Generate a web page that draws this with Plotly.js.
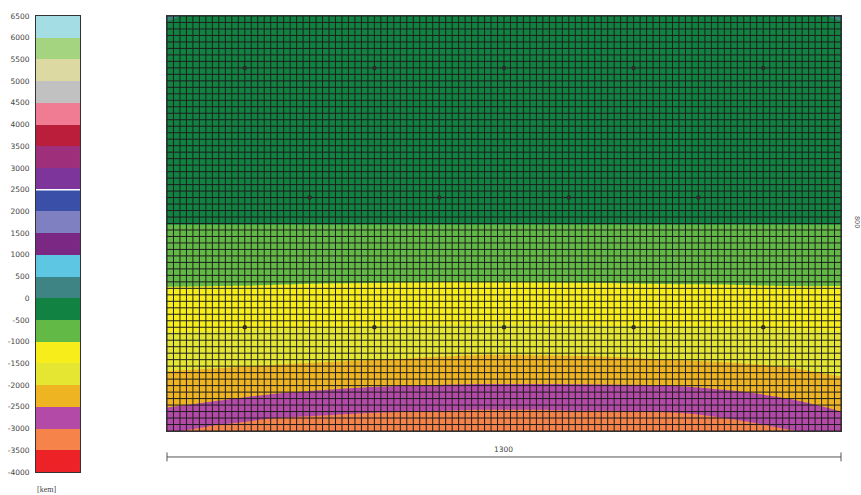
<!DOCTYPE html>
<html>
<head>
<meta charset="utf-8">
<script src="https://cdn.plot.ly/plotly-3.0.1.min.js"></script>
<style>html,body{margin:0;padding:0;background:#fff;}#chart{width:861px;height:495px;}</style>
</head>
<body>
<div id="chart"></div>
<script>
// Colour bar levels [kem] and band colours (one per 500 step)
const colorLevels = [-4000,-3500,-3000,-2500,-2000,-1500,-1000,-500,0,500,1000,1500,2000,2500,3000,3500,4000,4500,5000,5500,6000,6500];
const bandColors = ['#ec2227','#f5834a','#b44aa8','#eeb422','#e4e632','#f7ed1b','#63b946','#118241',
  '#3f8484','#5cc6e3','#7a2883','#7f80c2','#3a50a8','#7d359b','#9e2f7b','#bb1e3a','#ef7c93',
  '#c1c1c1','#ddd9a2','#a5d480','#a4dde3'];

// Field grid (x along 1300, y up to 800) and estimated values
const gridX = [0,100,200,300,400,500,600,700,800,900,1000,1100,1200,1300];
const gridY = [0,20,40,60,80,100,120,140,160,200,240,280,340,400,500,600,700,780,800];
const zRows = [
  [-2949,-3130,-3261,-3306,-3350,-3380,-3418,-3416,-3382,-3373,-3327,-3188,-3025,-2878],
  [-2745,-2913,-3043,-3102,-3150,-3180,-3214,-3212,-3186,-3176,-3135,-3009,-2856,-2673],
  [-2541,-2696,-2826,-2898,-2950,-2980,-3010,-3008,-2990,-2980,-2942,-2830,-2686,-2478],
  [-2387,-2484,-2609,-2694,-2750,-2780,-2806,-2804,-2794,-2784,-2750,-2652,-2517,-2328],
  [-2246,-2325,-2411,-2490,-2550,-2580,-2602,-2600,-2598,-2588,-2558,-2472,-2350,-2179],
  [-2106,-2167,-2232,-2298,-2353,-2389,-2411,-2410,-2407,-2394,-2357,-2283,-2183,-2030],
  [-1967,-2008,-2054,-2106,-2157,-2204,-2232,-2230,-2222,-2202,-2153,-2094,-2017,-1910],
  [-1833,-1868,-1900,-1934,-1970,-2019,-2054,-2052,-2037,-2010,-1962,-1926,-1878,-1798],
  [-1700,-1729,-1757,-1787,-1818,-1855,-1881,-1880,-1867,-1844,-1811,-1779,-1743,-1685],
  [-1443,-1459,-1476,-1494,-1515,-1532,-1542,-1541,-1533,-1516,-1508,-1488,-1476,-1459],
  [-1213,-1227,-1241,-1256,-1268,-1278,-1281,-1280,-1275,-1265,-1259,-1247,-1235,-1227],
  [-988,-996,-1006,-1018,-1024,-1031,-1031,-1030,-1025,-1019,-1012,-1006,-996,-996],
  [-744,-748,-752,-756,-759,-761,-761,-761,-759,-756,-754,-752,-748,-748],
  [-490,-490,-490,-490,-490,-490,-490,-490,-490,-490,-490,-490,-490,-490],
  [-400,-400,-400,-400,-400,-400,-400,-400,-400,-400,-400,-400,-400,-400],
  [-300,-300,-300,-300,-300,-300,-300,-300,-300,-300,-300,-300,-300,-300],
  [-200,-200,-200,-200,-200,-200,-200,-200,-200,-200,-200,-200,-200,-200],
  [-150,-150,-150,-150,-150,-150,-150,-150,-150,-150,-150,-150,-150,-150],
  [150,-400,-400,-400,-400,-400,-400,-400,-400,-400,-400,-400,-400,150]
];

// Point markers
const pileX = [150,400,650,900,1150, 275,525,775,1025, 150,400,650,900,1150];
const pileY = [700,700,700,700,700, 450,450,450,450, 200,200,200,200,200];

// Dimensions
const widthLabel = '1300';
const heightLabel = '800';
const unitLabel = '[kem]';
const fieldW = 1300, fieldH = 800, meshStep = 12.5;

// stepped colour scale
const nB = bandColors.length;
const cscale = [];
bandColors.forEach((c, k) => { cscale.push([k / nB, c]); cscale.push([(k + 1) / nB, c]); });

// mesh lines
const mx = [], my = [];
for (let x = 0; x <= fieldW + 1e-6; x += meshStep) { mx.push(x, x, null); my.push(0, fieldH, null); }
for (let y = 0; y <= fieldH + 1e-6; y += meshStep) { mx.push(0, fieldW, null); my.push(y, y, null); }

const zmin = colorLevels[0], zmax = colorLevels[colorLevels.length - 1];

const traces = [
  {
    type: 'contour', x: gridX, y: gridY, z: zRows,
    zmin: zmin, zmax: zmax, colorscale: cscale, showscale: false,
    contours: {start: zmin, end: zmax, size: 500, coloring: 'fill', showlines: false},
    line: {width: 0, smoothing: 1}, hoverinfo: 'skip'
  },
  {
    type: 'scatter', mode: 'lines', x: mx, y: my, connectgaps: false,
    line: {color: '#1e1e1e', width: 1}, hoverinfo: 'skip', showlegend: false
  },
  {
    type: 'scatter', mode: 'markers', x: pileX, y: pileY,
    marker: {size: 4.5, color: '#2b2b2b', line: {width: 0}}, hoverinfo: 'skip', showlegend: false
  },
  {
    type: 'heatmap', x: [0, 1], y: colorLevels,
    z: bandColors.map((c, k) => [(colorLevels[k] + colorLevels[k + 1]) / 2]),
    zmin: zmin, zmax: zmax, colorscale: cscale, showscale: false,
    xaxis: 'x2', yaxis: 'y2', hoverinfo: 'skip'
  }
];

const layout = {
  width: 861, height: 495,
  margin: {l: 0, r: 0, t: 0, b: 0},
  paper_bgcolor: '#ffffff', plot_bgcolor: '#ffffff',
  font: {family: 'DejaVu Sans, sans-serif', size: 7.5, color: '#444'},
  showlegend: false,
  xaxis: {domain: [0.19396, 0.97677], range: [0, fieldW], showgrid: false, zeroline: false,
          showticklabels: false, ticks: '', showline: true, mirror: true, linecolor: '#333', linewidth: 1},
  yaxis: {domain: [0.12929, 0.96768], range: [0, fieldH], showgrid: false, zeroline: false,
          showticklabels: false, ticks: '', showline: true, mirror: true, linecolor: '#333', linewidth: 1},
  xaxis2: {domain: [0.0418, 0.0929], anchor: 'y2', range: [0, 1], showgrid: false, zeroline: false,
           showticklabels: false, ticks: '', showline: true, mirror: true, linecolor: '#333', linewidth: 1},
  yaxis2: {domain: [0.0465, 0.9677], anchor: 'x2', range: [zmin, zmax], tickvals: colorLevels,
           ticktext: colorLevels.map(String), showgrid: false, zeroline: false, ticks: '',
           ticklabelstandoff: 4, showline: true, mirror: true, linecolor: '#333', linewidth: 1,
           tickfont: {size: 7.5, color: '#444'}},
  shapes: [
    {type: 'line', xref: 'x2', yref: 'y2', x0: 0, x1: 1, y0: 2500, y1: 2500, line: {color: '#ffffff', width: 1.5}},
    {type: 'line', xref: 'x domain', yref: 'paper', x0: 0, x1: 1, y0: 0.0768, y1: 0.0768, line: {color: '#555', width: 1}},
    {type: 'line', xref: 'x domain', yref: 'paper', x0: 0, x1: 0, y0: 0.068, y1: 0.086, line: {color: '#555', width: 1}},
    {type: 'line', xref: 'x domain', yref: 'paper', x0: 1, x1: 1, y0: 0.068, y1: 0.086, line: {color: '#555', width: 1}}
  ],
  annotations: [
    {text: widthLabel, xref: 'x domain', yref: 'paper', x: 0.5, y: 0.0929, xanchor: 'center', yanchor: 'middle',
     showarrow: false, font: {size: 7.5, color: '#444'}},
    {text: heightLabel, xref: 'paper', yref: 'paper', x: 0.9954, y: 0.5515, xanchor: 'center', yanchor: 'middle',
     showarrow: false, textangle: 90, font: {size: 6.5, color: '#555'}},
    {text: unitLabel, xref: 'paper', yref: 'paper', x: 0.0535, y: 0.012, xanchor: 'center', yanchor: 'middle',
     showarrow: false, font: {family: 'Liberation Serif, serif', size: 8, color: '#444'}}
  ]
};

Plotly.newPlot('chart', traces, layout, {staticPlot: true, displayModeBar: false});
</script>
</body>
</html>
